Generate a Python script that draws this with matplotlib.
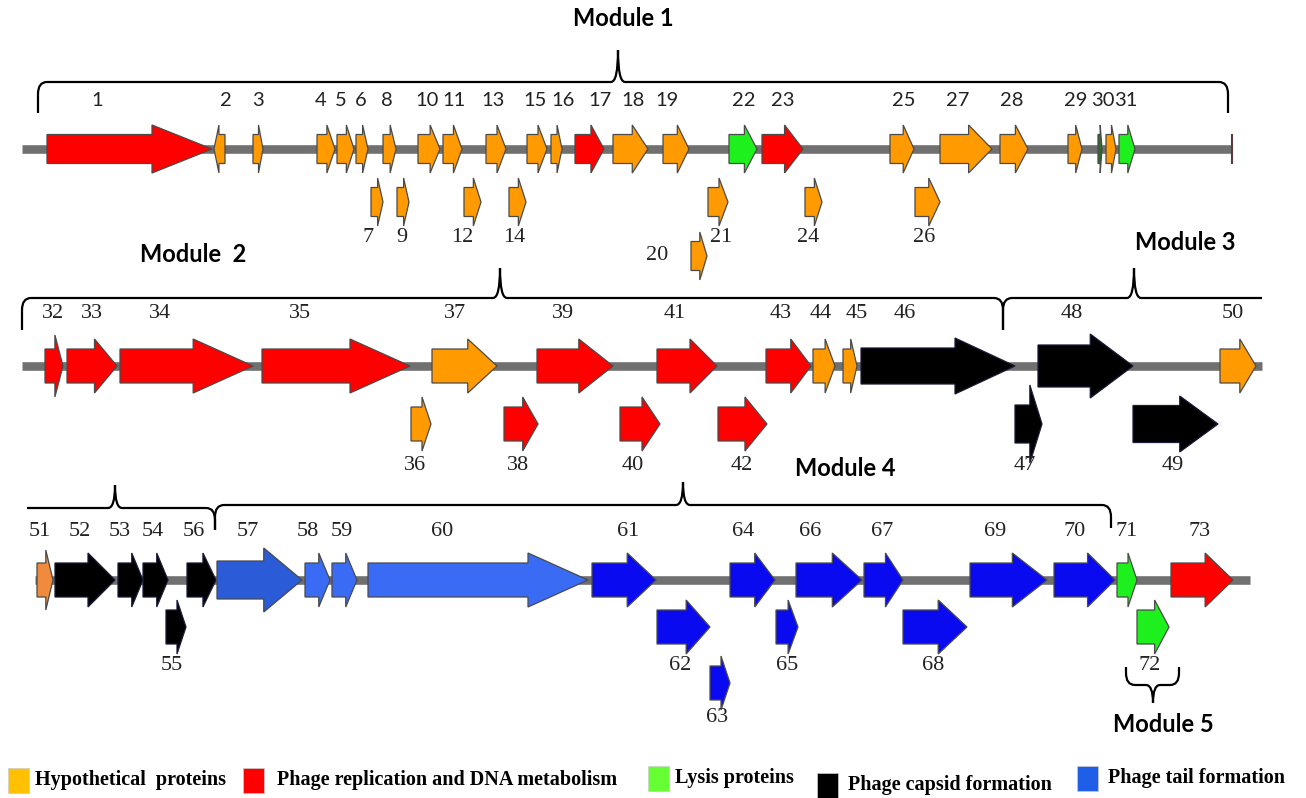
import matplotlib
matplotlib.use("Agg")
import matplotlib.pyplot as plt
from matplotlib.patches import Polygon, Rectangle, PathPatch
from matplotlib.path import Path

# ---------------- data ----------------
# gene id, start, end (map units), row, lane, category, strand
gene_ids = [1, 2, 3, 4, 5, 6, 7, 8, 9, 10, 11, 12, 13, 14, 15, 16, 17, 18, 19, 20,
            21, 22, 23, 24, 25, 26, 27, 28, 29, 0, 30, 31,
            32, 33, 34, 35, 36, 37, 38, 39, 40, 41, 42, 43, 44, 45, 46, 47, 48, 49, 50,
            51, 52, 53, 54, 55, 56, 57, 58, 59, 60, 61, 62, 63, 64, 65, 66, 67, 68, 69,
            70, 71, 72, 73]
gene_start = [47, 214, 253, 317, 337, 356, 371, 383, 397, 418, 443, 464, 486, 509, 527, 551, 575, 613, 663, 691,
              708, 729, 762, 805, 890, 915, 940, 1000, 1068, 1098, 1106, 1119,
              45, 67, 120, 262, 411, 432, 504, 537, 620, 657, 718, 766, 813, 843, 861, 1015, 1038, 1133, 1220,
              37, 55, 118, 143, 166, 187, 217, 305, 332, 368, 592, 657, 710, 730, 776, 796, 864, 903, 970,
              1054, 1117, 1137, 1171]
gene_end = [212, 225, 263, 335, 354, 368, 383, 396, 409, 440, 462, 481, 506, 526, 547, 562, 604, 648, 689, 707,
            728, 757, 803, 822, 914, 940, 992, 1028, 1082, 1102, 1116, 1135,
            63, 117, 253, 410, 431, 497, 538, 613, 660, 717, 767, 811, 835, 857, 1015, 1042, 1133, 1218, 1256,
            53, 115, 143, 168, 186, 216, 302, 330, 357, 588, 656, 710, 730, 775, 798, 862, 903, 967, 1047,
            1115, 1137, 1169, 1233]
gene_row = [0] * 32 + [1] * 19 + [2] * 23
gene_lane = [0, 0, 0, 0, 0, 0, 1, 0, 1, 0, 0, 1, 0, 1, 0, 0, 0, 0, 0, 2,
             1, 0, 0, 1, 0, 1, 0, 0, 0, 0, 0, 0,
             0, 0, 0, 0, 1, 0, 1, 0, 1, 0, 1, 0, 0, 0, 0, 1, 0, 1, 0,
             0, 0, 0, 0, 1, 0, 0, 0, 0, 0, 0, 1, 2, 0, 1, 0, 0, 1, 0,
             0, 0, 1, 0]
gene_cat = ['rep', 'hyp', 'hyp', 'hyp', 'hyp', 'hyp', 'hyp', 'hyp', 'hyp', 'hyp', 'hyp', 'hyp', 'hyp', 'hyp',
            'hyp', 'hyp', 'rep', 'hyp', 'hyp', 'hyp', 'hyp', 'lys', 'rep', 'hyp', 'hyp', 'hyp', 'hyp', 'hyp',
            'hyp', 'dk', 'hyp', 'lys',
            'rep', 'rep', 'rep', 'rep', 'hyp', 'hyp', 'rep', 'rep', 'rep', 'rep', 'rep', 'rep', 'hyp', 'hyp',
            'cap', 'cap', 'cap', 'cap', 'hyp',
            'hyp2', 'cap', 'cap', 'cap', 'cap', 'cap', 'tail1', 'tail2', 'tail2', 'tail2', 'tail3', 'tail3',
            'tail3', 'tail3', 'tail3', 'tail3', 'tail3', 'tail3', 'tail3', 'tail3', 'lys', 'lys', 'rep']
gene_strand = [1] * len(gene_ids)
gene_strand[1] = -1

# label positions (map units)
label_x = {1: 97, 2: 226, 3: 258, 4: 321, 5: 341, 6: 361, 8: 387, 10: 427, 11: 454, 13: 493, 15: 535,
           16: 563, 17: 600, 18: 633, 19: 667, 22: 744, 23: 783, 25: 904, 27: 958, 28: 1012, 29: 1076,
           30: 1103, 31: 1126, 7: 368, 9: 402, 12: 462, 14: 514, 21: 721, 24: 808, 26: 924,
           32: 53, 33: 92, 34: 160, 35: 300, 37: 455, 39: 563, 41: 675, 43: 781, 44: 821, 45: 857,
           46: 905, 48: 1072, 50: 1233, 36: 415, 38: 518, 40: 633, 42: 742, 47: 1025, 49: 1173,
           51: 40, 52: 80, 53: 120, 54: 153, 56: 194, 57: 248, 58: 308, 59: 342, 60: 442, 61: 628,
           64: 743, 66: 810, 67: 882, 69: 995, 70: 1075, 71: 1127, 73: 1200,
           55: 172, 62: 680, 65: 787, 68: 933, 72: 1150}

legend_labels = ['Hypothetical  proteins', 'Phage replication and DNA metabolism', 'Lysis proteins',
                 'Phage capsid formation', 'Phage tail formation']
legend_cats = ['leg_hyp', 'rep', 'leg_lys', 'cap', 'leg_tail']

modules = ['Module 1', 'Module  2', 'Module 3', 'Module 4', 'Module 5']

# ---------------- styles ----------------
colors = {'hyp': '#FF9A00', 'hyp2': '#F08A3C', 'rep': '#FF0000', 'lys': '#1EF01E', 'dk': '#2E6B2E',
          'cap': '#000000', 'tail1': '#2B5BD6', 'tail2': '#3A6BF5', 'tail3': '#0A0AF0',
          'leg_hyp': '#FFC000', 'leg_lys': '#66FF33', 'leg_tail': '#1F5FE8'}
row_y = [149, 366, 580]
lane_off = [[0, 53, 107], [0, 58, 0], [0, 47, 103]]
row_hb = [14.5, 17, 17]
row_hh = [24, 27, 27]
big = {46: (18, 28), 48: (21, 32), 49: (18.5, 28), 57: (19, 32), 47: (19, 39), 32: (17, 31), 51: (17, 30)}
line_span = [(22, 1232), (22, 1262), (35, 1250)]
main_label_y = [100, 314, 532]
sub_label_y = [238, 466, 665]

fig = plt.figure(figsize=(13.06, 7.98), dpi=100)
ax = fig.add_axes([0, 0, 1, 1])
ax.set_xlim(0, 1306)
ax.set_ylim(798, 0)
ax.axis('off')

# backbone lines
for r in range(3):
    ax.plot(line_span[r], [row_y[r], row_y[r]], color='#707070', lw=6.2, solid_capstyle='butt', zorder=1)
ax.plot([1232, 1232], [135, 163], color='#5A3A3A', lw=1.5, zorder=2)


def gene_poly(x0, x1, y, hb, hh, strand):
    L = x1 - x0
    hl = min(0.45 * L, 60)
    if strand > 0:
        hx = x1 - hl
        pts = [(x0, y - hb), (hx, y - hb), (hx, y - hh), (x1, y), (hx, y + hh), (hx, y + hb), (x0, y + hb)]
    else:
        hx = x0 + hl
        pts = [(x1, y - hb), (hx, y - hb), (hx, y - hh), (x0, y), (hx, y + hh), (hx, y + hb), (x1, y + hb)]
    return pts


serif = dict(fontsize=16, family='Liberation Serif', color='#222')
for gid, s, e, r, ln, c, st in zip(gene_ids, gene_start, gene_end, gene_row, gene_lane, gene_cat, gene_strand):
    y = row_y[r] + lane_off[r][ln]
    hb, hh = big.get(gid, (row_hb[r], row_hh[r]))
    ec = '#4A4A4A' if c != 'cap' else '#1a1a3a'
    ax.add_patch(Polygon(gene_poly(s, e, y, hb, hh, st), closed=True, facecolor=colors[c],
                         edgecolor=ec, lw=0.9, zorder=3))
    if gid == 0:
        continue
    if gid == 20:
        ax.text(657, 256, '20', ha='center', va='center', **serif)
        continue
    if gid == 63:
        ax.text(717, 717, '63', ha='center', va='center', **serif)
        continue
    if r == 0 and ln == 0:
        ax.text(label_x[gid], main_label_y[r], str(gid), ha='center', va='center', fontsize=14.5,
                family='Lato', color='#222')
    else:
        yy = main_label_y[r] if ln == 0 else sub_label_y[r]
        ax.text(label_x[gid], yy, str(gid), ha='center', va='center', **serif)


# braces
def brace(segs, lw=1.6):
    verts, codes = [], []
    for i, (kind, pts) in enumerate(segs):
        if i == 0:
            verts.append(pts[0]); codes.append(Path.MOVETO)
            continue
        if kind == 'L':
            verts.append(pts[0]); codes.append(Path.LINETO)
        else:
            verts.extend(pts); codes.extend([Path.CURVE3, Path.CURVE3])
    ax.add_patch(PathPatch(Path(verts, codes), fill=False, lw=lw, color='black', zorder=4))


def hbrace(x0, x1, xm, y, tip, ly=None, ry=None):
    segs = []
    if ly is not None:
        d = 1 if ly > y else -1
        segs += [('M', [(x0, ly)]), ('L', [(x0, y + 12 * d)]), ('C', [(x0, y), (x0 + 9, y)])]
    else:
        segs += [('M', [(x0, y)])]
    segs += [('L', [(xm - 7, y)]), ('C', [(xm, y), (xm, tip)]), ('C', [(xm, y), (xm + 7, y)])]
    if ry is not None:
        d = 1 if ry > y else -1
        segs += [('L', [(x1 - 9, y)]), ('C', [(x1, y), (x1, y + 12 * d)]), ('L', [(x1, ry)])]
    else:
        segs += [('L', [(x1, y)])]
    brace(segs)


hbrace(38, 1228, 618, 82, 50, ly=113, ry=113)
hbrace(22, 1003, 500, 298, 268, ly=330, ry=330)
hbrace(1003, 1262, 1134, 298, 268, ly=330)
hbrace(27, 215, 115, 508, 485, ry=530)
hbrace(215, 1111, 683, 505, 482, ly=530, ry=528)
hbrace(1126, 1179, 1153, 685, 703, ly=667, ry=667)

mod_pos = [(623, 18), (193, 254), (1185, 243), (845, 469), (1163, 725)]
for m, (x, y) in zip(modules, mod_pos):
    ax.text(x, y, m, ha='center', va='center', fontsize=17, fontweight='bold', family='Lato', color='black')

# legend
leg_box_x = [8, 243, 648, 817, 1077]
leg_text_x = [35, 277, 675, 848, 1108]
leg_y = [780, 780, 778, 785, 778]
for lab, c, bx, tx, ly in zip(legend_labels, legend_cats, leg_box_x, leg_text_x, leg_y):
    ax.add_patch(Rectangle((bx, ly - 12.5), 21, 25, facecolor=colors[c], edgecolor='#cccccc', lw=0.5, zorder=3))
    ax.text(tx, ly, lab, ha='left', va='center', fontsize=14.5, fontweight='bold',
            family='Liberation Serif', color='black')

fig.savefig('out.png', dpi=100)
